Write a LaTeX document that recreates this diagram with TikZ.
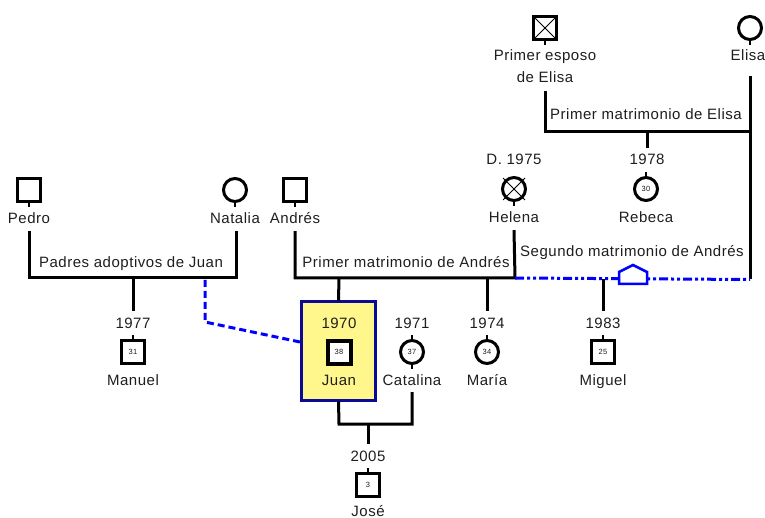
\documentclass[tikz,border=0pt]{standalone}
\usepackage{fontspec}
\setmainfont[LetterSpace=3.5]{Liberation Sans}
\definecolor{txt}{RGB}{30,30,30}
\definecolor{jfill}{RGB}{255,246,140}
\definecolor{jborder}{RGB}{10,10,150}
\definecolor{lblue}{RGB}{0,0,255}
\newcommand\lblfont{\fontsize{15}{16}\selectfont}
\newcommand\numfont{\fontsize{7.5}{8}\selectfont}
\tikzset{
  rel/.style={line width=3pt, line cap=butt, line join=miter},
  stub/.style={line width=2.5pt},
  male/.style={draw, line width=3pt, rectangle, minimum size=23pt, inner sep=0pt, fill=white, font=\numfont, text=txt},
  female/.style={draw, line width=3pt, circle, minimum size=23pt, inner sep=0pt, fill=white, font=\numfont, text=txt},
  crossed/.style={path picture={\draw[line width=1pt] (path picture bounding box.north west) -- (path picture bounding box.south east) (path picture bounding box.north east) -- (path picture bounding box.south west);}},
  lbl/.style={font=\lblfont, text=txt, inner sep=0pt, text height=11pt, text depth=3pt},
  focus/.style={draw=jborder, fill=jfill, line width=3pt, minimum width=74pt, minimum height=98pt, inner sep=0pt},
  adopt/.style={draw=lblue, line width=3pt, dash pattern=on 7pt off 4pt},
  second/.style={draw=lblue, line width=3pt, dash pattern=on 9pt off 3pt on 3pt off 3pt on 3pt off 3pt},
}
\begin{document}
\begin{tikzpicture}[x=1pt, y=-1pt]
\useasboundingbox (0,0) rectangle (765,518);

% ---------- top generation: Elisa and first husband ----------
\node[male, crossed] (pe) at (545,28) {};
\draw[stub] (pe.south) -- ++(0,4);
\node[lbl] (pel1) at (545,57) {Primer esposo};
\node[lbl] (pel2) at (545,79) {de Elisa};
\node[female] (el) at (750,28) {};
\draw[stub] (el.south) -- ++(0,4);
\node[lbl] (ell) at (748,57) {Elisa};
\coordinate (elTop) at (750,76);

\coordinate (m3L) at (545,132);
\coordinate (m3C) at (647,132);
\coordinate (m3R) at (750,132);
\coordinate (m5R) at (750,279.5);
\draw[rel] ([yshift=-5pt]pel2.south) -- (m3L) -- (m3R);
\draw[rel] (elTop) -- (m5R);
\node[lbl] (m3lbl) at (646,116) {Primer matrimonio de Elisa};

% Rebeca
\node[lbl] (y78) at (647,161) {1978};
\draw[rel] (m3C) -- ([yshift=6pt]y78.north);
\node[female] (reb) at (646,189) {30};
\draw[stub] (reb.north) -- ++(0,-4);
\node[lbl] (rebl) at (646,219) {Rebeca};

% Helena
\node[lbl] (hd) at (514,161) {D. 1975};
\node[female] (he) at (514,189) {};
\draw[line width=1pt] ([shift={(-11pt,-11pt)}]he.center) -- ([shift={(11pt,11pt)}]he.center)
  ([shift={(-11pt,11pt)}]he.center) -- ([shift={(11pt,-11pt)}]he.center);
\draw[stub] (he.south) -- ++(0,4);
\node[lbl] (hel) at (514,219) {Helena};

% ---------- middle generation ----------
\node[male] (pedro) at (29,190) {};
\draw[stub] (pedro.south) -- ++(0,4);
\node[lbl] (pedrol) at (29,220) {Pedro};
\node[female] (nat) at (235,190) {};
\draw[stub] (nat.south) -- ++(0,4);
\node[lbl] (natl) at (235,220) {Natalia};
\node[male] (and) at (295,190) {};
\draw[stub] (and.south) -- ++(0,4);
\node[lbl] (andl) at (295,220) {Andrés};

% marriage Pedro - Natalia
\coordinate (m1L) at (29,278);
\coordinate (m1C) at (133,278);
\coordinate (m1R) at (236,278);
\draw[rel] ([yshift=-4pt]pedrol.south) -- (m1L) -- (m1R) -- ([yshift=-4pt]natl.south -| m1R);
\node[lbl] (m1lbl) at (131,264) {Padres adoptivos de Juan};

% Manuel
\node[lbl] (y77) at (133,324) {1977};
\draw[rel] (m1C) -- ([yshift=6pt]y77.north);
\node[male] (man) at (133,352) {31};
\draw[stub] (man.north) -- ++(0,-4);
\node[lbl] (manl) at (133,381) {Manuel};

% marriage Andrés - Helena
\coordinate (m2L) at (295,278);
\coordinate (m2J) at (339,278);
\coordinate (m2M) at (487,278);
\coordinate (m2R) at (515,278);
\draw[rel] ([yshift=-4pt]andl.south) -- (m2L) -- (m2R) -- ([yshift=-4pt]hel.south);
\node[lbl] (m2lbl) at (406,264) {Primer matrimonio de Andrés};

% second marriage Andrés - Elisa
\draw[second] (m2R) -- (m5R);
\node[lbl] (m5lbl) at (632,253) {Segundo matrimonio de Andrés};
\coordinate (hs) at (633,278);
\draw[draw=lblue, fill=white, line width=2.5pt, line join=miter]
  ([shift={(-14pt,-6pt)}]hs) -- ([shift={(-14pt,6pt)}]hs) -- ([shift={(0pt,13pt)}]hs)
  -- ([shift={(14pt,6pt)}]hs) -- ([shift={(14pt,-6pt)}]hs) -- cycle;

% Juan (focus)
\node[focus] (jbox) at (338.5,351) {};
\draw[rel] (m2J) -- (jbox.north);
\node[lbl] (y70) at (339,324) {1970};
\node[male, line width=4pt, minimum size=23pt] (juan) at (339,352) {38};
\node[lbl] (juanl) at (339,381) {Juan};

% adoption link
\coordinate (adA) at (205,280);
\coordinate (adB) at (205,322);
\draw[adopt] (adA) -- (adB) -- ([yshift=9pt]jbox.west);

% Catalina
\node[lbl] (y71) at (412,324) {1971};
\node[female] (cat) at (412,352) {37};
\draw[stub] (cat.north) -- ++(0,-4);
\draw[stub] (cat.south) -- ++(0,4);
\node[lbl] (catl) at (412,381) {Catalina};

% María
\node[lbl] (y74) at (487,324) {1974};
\draw[rel] (m2M) -- ([yshift=6pt]y74.north);
\node[female] (mar) at (487,352) {34};
\draw[stub] (mar.north) -- ++(0,-4);
\node[lbl] (marl) at (487,381) {María};

% Miguel
\coordinate (m5C) at (603,279.5);
\node[lbl] (y83) at (603,324) {1983};
\draw[rel] (m5C) -- ([yshift=6pt]y83.north);
\node[male] (mig) at (603,352) {25};
\draw[stub] (mig.north) -- ++(0,-4);
\node[lbl] (migl) at (603,381) {Miguel};

% marriage Juan - Catalina
\coordinate (m4L) at (339,424);
\coordinate (m4C) at (368,424);
\coordinate (m4R) at (412,424);
\draw[rel] (jbox.south) -- (m4L) -- (m4R) -- ([yshift=-4pt]catl.south);
\node[lbl] (y05) at (368,457) {2005};
\draw[rel] (m4C) -- ([yshift=6pt]y05.north);
\node[male] (jose) at (368,485) {3};
\draw[stub] (jose.north) -- ++(0,-4);
\node[lbl] (josel) at (368,512) {José};
\end{tikzpicture}
\end{document}
